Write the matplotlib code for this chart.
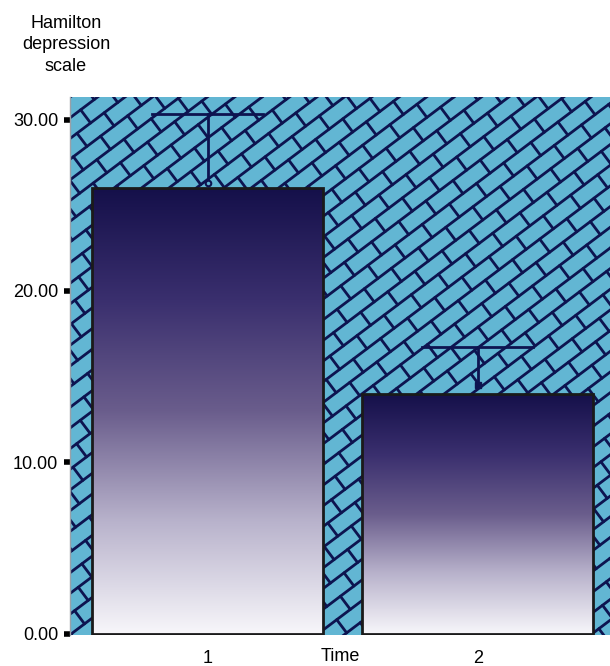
import numpy as np
import matplotlib.pyplot as plt
from matplotlib.colors import LinearSegmentedColormap
from matplotlib.patches import Rectangle
from matplotlib.collections import LineCollection

plt.rcParams['font.family'] = ['Liberation Sans', 'DejaVu Sans']

# data
times = [1, 2]
tick_labels = ['1', '2']
means = [26.0, 14.0]
upper = [30.3, 16.7]    # top of error bar
marker_y = [26.3, 14.5]
yticks = [0, 10, 20, 30]

bar_w = 0.855
navy = '#0d1450'
grad = LinearSegmentedColormap.from_list(
    'bar', ['#f7f6fa', '#b9b3cc', '#6a5d8c', '#3a2f6e', '#15104a'])

fig = plt.figure(figsize=(6.10, 6.66), dpi=100)
ax = fig.add_axes([0.115, 0.047, 0.885, 0.807])
ax.set_xlim(0.49, 2.49)
ax.set_ylim(-0.06, 31.3)
ax.set_facecolor('#62b6d3')

# brick-like background pattern (in pixel units of the axes box)
W, H = 540.0, 537.0
ang = np.deg2rad(37)
u = np.array([np.cos(ang), np.sin(ang)])
n = np.array([-np.sin(ang), np.cos(ang)])
d, L = 16.5, 34.0
R = 900
segs = []
for k in range(-60, 61):
    p0 = k * d * n
    segs.append([(p0 - R * u), (p0 + R * u)])
    off = (k % 2) * L / 2
    for j in np.arange(-R, R, L):
        q = p0 + (j + off) * u
        segs.append([q, q + d * n])
segs = np.array(segs)
segs[:, :, 0] /= W
segs[:, :, 1] /= H
lc = LineCollection(segs, colors=navy, linewidths=2.0, transform=ax.transAxes,
                    zorder=1, capstyle='round')
ax.add_collection(lc, autolim=False)

g = np.linspace(0, 1, 256).reshape(-1, 1)
for x, m in zip(times, means):
    x0 = x - bar_w / 2
    rect = Rectangle((x0, 0), bar_w, m, facecolor='none', edgecolor='#1a1a1a',
                     linewidth=2, zorder=4)
    ax.add_patch(rect)
    im = ax.imshow(g, cmap=grad, aspect='auto', origin='lower',
                   extent=(x0, x0 + bar_w, 0, m), zorder=3)
    im.set_clip_path(rect)

# error bars
cap = 0.205
for x, m, up in zip(times, marker_y, upper):
    ax.plot([x, x], [m, up], color=navy, lw=2, zorder=5)
    ax.plot([x - cap, x + cap], [up, up], color=navy, lw=2, zorder=5)
ax.plot(times[0], marker_y[0], 'o', ms=4, mfc='#62b6d3', mec=navy,
        mew=1.5, zorder=6)
ax.plot(times[1], marker_y[1], 's', ms=5, color=navy, zorder=6)

for s in ['top', 'right', 'bottom']:
    ax.spines[s].set_visible(False)
ax.spines['left'].set_color('#9aa0a8')
ax.spines['left'].set_linewidth(1)

ax.set_yticks(yticks)
ax.set_yticklabels(['%.2f' % v for v in yticks], fontsize=13)
ax.tick_params(axis='y', length=4.5, width=4, color='black', pad=4)
ax.set_xticks(times)
ax.set_xticklabels(tick_labels, fontsize=13)
ax.tick_params(axis='x', length=0, pad=11)
ax.set_xlabel('Time', fontsize=13, labelpad=-13.5)

fig.text(0.108, 0.978, 'Hamilton\ndepression\nscale', ha='center', va='top',
         fontsize=13, linespacing=1.37)

fig.savefig('out.png', dpi=100)
